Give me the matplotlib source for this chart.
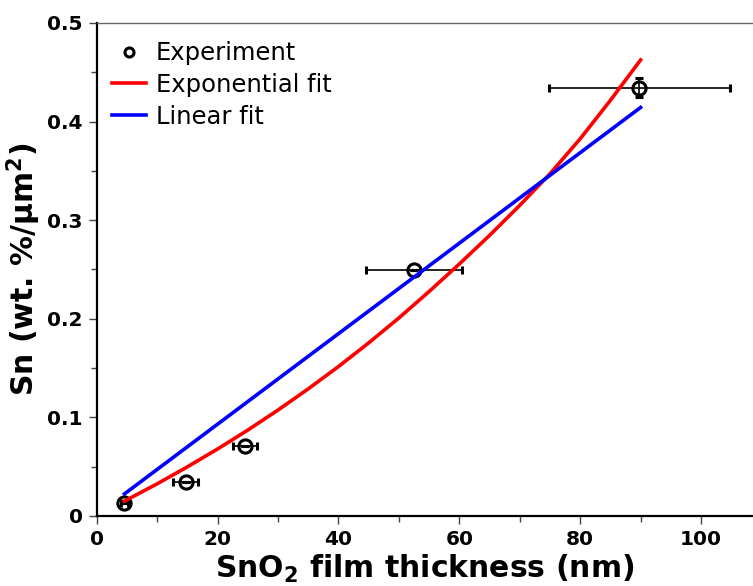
import matplotlib
matplotlib.use("Agg")
import matplotlib.pyplot as plt
from matplotlib.ticker import MultipleLocator
from matplotlib.lines import Line2D

# Experimental data
exp_x = [4.6, 14.7, 24.6, 52.5, 89.8]
exp_y = [0.0135, 0.0349, 0.0714, 0.249, 0.4345]
exp_xerr = [0.6, 2.1, 2.0, 8.0, 15.0]
exp_yerr = [0.0, 0.0, 0.0, 0.0, 0.010]

# Exponential fit curve
exp_fit_x = [4.6, 10, 15, 20, 25, 30, 35, 40, 45, 50, 55, 60, 65, 70, 75, 80, 85, 90]
exp_fit_y = [0.0151, 0.0326, 0.0498, 0.0679, 0.0871, 0.1074, 0.1289, 0.1515, 0.1755,
             0.2008, 0.2276, 0.2555, 0.2845, 0.3150, 0.3470, 0.3825, 0.4215, 0.4625]

# Linear fit line
lin_fit_x = [4.6, 90.0]
lin_fit_y = [0.0224, 0.4143]

plt.rcParams['font.family'] = ['DejaVu Sans']

fig = plt.figure(figsize=(7.53, 5.86), dpi=100)
ax = fig.add_axes([0.1284, 0.1195, 0.8716, 0.8413])

ax.errorbar(exp_x, exp_y, xerr=exp_xerr, yerr=exp_yerr, fmt='o', mfc='none',
            mec='black', mew=2.2, ms=9.5, ecolor='black', elinewidth=1.2,
            capsize=3, capthick=1.2, zorder=2)
ax.plot(exp_fit_x, exp_fit_y, color='#ff0000', lw=2.6, zorder=3)
ax.plot(lin_fit_x, lin_fit_y, color='#0000ff', lw=2.6, zorder=3)

ax.set_xlim(0, 108.6)
ax.set_ylim(0, 0.5)
ax.xaxis.set_major_locator(MultipleLocator(20))
ax.xaxis.set_minor_locator(MultipleLocator(10))
ax.yaxis.set_minor_locator(MultipleLocator(0.05))
ax.set_yticks([0, 0.1, 0.2, 0.3, 0.4, 0.5])
ax.set_yticklabels(['0', '0.1', '0.2', '0.3', '0.4', '0.5'])

for s in ['left', 'bottom']:
    ax.spines[s].set_linewidth(1.6)
    ax.spines[s].set_color('black')
ax.spines['top'].set_color('#666666')
ax.spines['top'].set_linewidth(1.0)
ax.spines['right'].set_visible(False)

ax.tick_params(which='major', direction='out', length=6, width=1.0, color='#444444',
               labelsize=14.5, pad=4)
ax.tick_params(which='minor', direction='out', length=4, width=1.0, color='#444444')
for lab in ax.get_xticklabels() + ax.get_yticklabels():
    lab.set_fontweight('bold')

ax.set_xlabel('SnO$_\\mathbf{2}$ film thickness (nm)', fontsize=21.5, fontweight='bold', labelpad=3)
ax.set_ylabel('Sn (wt. %/µm$^\\mathbf{2}$)', fontsize=21.5, fontweight='bold', labelpad=3)

handles = [
    Line2D([], [], marker='o', ls='none', mfc='none', mec='black', mew=2.2, ms=6.5),
    Line2D([], [], color='#ff0000', lw=2.6),
    Line2D([], [], color='#0000ff', lw=2.6),
]
labels = ['Experiment', 'Exponential fit', 'Linear fit']
ax.legend(handles, labels, loc='upper left', frameon=False, fontsize=17.5,
          handlelength=1.4, handletextpad=0.41, labelspacing=0.32,
          borderaxespad=0.0, bbox_to_anchor=(0.008, 0.983))

fig.savefig('out.png', dpi=100)
